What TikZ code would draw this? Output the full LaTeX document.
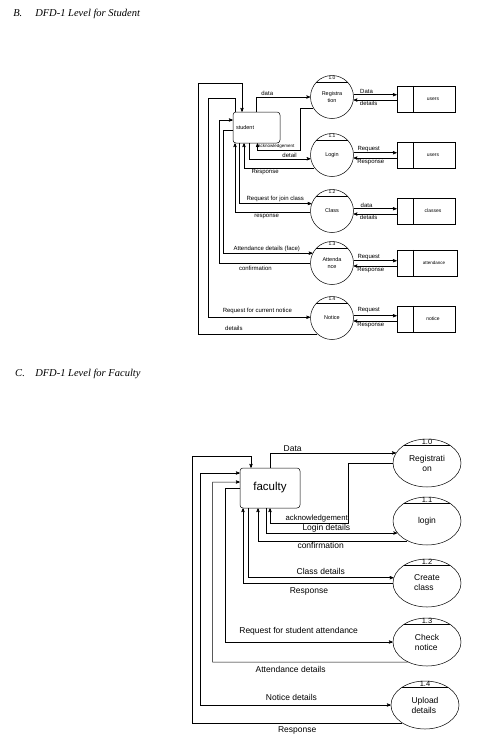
\documentclass[tikz,border=0pt]{standalone}
\usepackage{fontspec}
\setmainfont{Liberation Sans}
\newfontfamily\headfont{Liberation Serif}
\usetikzlibrary{arrows,shapes.geometric}

\begin{document}
\begin{tikzpicture}[x=1pt,y=-1pt,>=stealth',line width=0.5pt,
                    ent/.style={draw,rounded corners=3pt,inner sep=3pt,align=left},
                    proc/.style={draw,circle,minimum size=43pt,inner sep=0pt,align=center,
                                 font=\fontsize{5.5}{6.5}\selectfont},
                    fproc/.style={draw,ellipse,minimum width=68pt,minimum height=48pt,
                                  inner sep=0pt,font=\fontsize{8.5}{10}\selectfont},
                    store/.style={draw,minimum width=58pt,minimum height=26pt,inner sep=0pt},
                    stxt/.style={font=\fontsize{5}{6}\selectfont,inner sep=0pt},
                    pnum/.style={font=\fontsize{5}{5}\selectfont,inner sep=0.5pt},
                    fnum/.style={font=\fontsize{7.5}{8}\selectfont,inner sep=0.5pt},
                    tl/.style={font=\fontsize{6}{7}\selectfont,inner sep=1.2pt},
                    bl/.style={font=\fontsize{8.5}{10}\selectfont,inner sep=1.5pt},
                    head/.style={font=\headfont\itshape\fontsize{10.5}{12}\selectfont,
                                 inner sep=0pt,anchor=base west}]

	\useasboundingbox (0,0) rectangle (485,740);

	% headings
	\node[head] (hb)  at (13,16.5)  {B.};
	\node[head] (hbt) at (35,16.5)  {DFD-1 Level for Student};
	\node[head] (hc)  at (15,376.5) {C.};
	\node[head] (hct) at (35,376.5) {DFD-1 Level for Faculty};

	% student level
	\node[ent,text width=41pt,minimum height=31pt,font=\fontsize{5.5}{6}\selectfont]
		(stu) at (256.5,127.5) {student};

	\node[proc] (reg) at (332,97)  {Registra\\tion};
	\node[proc] (log) at (332,155) {Login};
	\node[proc] (cls) at (332,211) {Class};
	\node[proc] (att) at (332,263) {Attenda\\nce};
	\node[proc] (not) at (332,318) {Notice};

	\draw (reg.137) -- (reg.43);  \node[pnum,below] at (reg.north) {1.0};
	\draw (log.137) -- (log.43);  \node[pnum,below] at (log.north) {1.1};
	\draw (cls.137) -- (cls.43);  \node[pnum,below] at (cls.north) {1.2};
	\draw (att.137) -- (att.43);  \node[pnum,below] at (att.north) {1.3};
	\draw (not.137) -- (not.43);  \node[pnum,below] at (not.north) {1.4};

	\node[store,label={[stxt,xshift=7pt]center:users}]   (us1)  at (426,99)  {};
	\node[store,label={[stxt,xshift=7pt]center:users}]   (us2)  at (426,155) {};
	\node[store,label={[stxt,xshift=7pt]center:classes}] (scls) at (426,211) {};
	\node[store,minimum width=60pt,label={[stxt,xshift=7pt,font=\fontsize{4.5}{5}\selectfont]center:attendance}]
		(satt) at (427,263) {};
	\node[store,label={[stxt,xshift=7pt]center:notice}]  (snot) at (426,319) {};

	\draw ([xshift=16pt]us1.north west)  -- ([xshift=16pt]us1.south west);
	\draw ([xshift=16pt]us2.north west)  -- ([xshift=16pt]us2.south west);
	\draw ([xshift=16pt]scls.north west) -- ([xshift=16pt]scls.south west);
	\draw ([xshift=16pt]satt.north west) -- ([xshift=16pt]satt.south west);
	\draw ([xshift=16pt]snot.north west) -- ([xshift=16pt]snot.south west);

	\draw[->] (reg.6) -- node[tl,above,pos=0.3] {Data} (reg.6 -| us1.west);
	\draw[->] (us1.west |- reg.-8) -- node[tl,below,pos=0.65] {details} (reg.-8);
	\draw[->] (log.6) -- node[tl,above,pos=0.35] {Request} (log.6 -| us2.west);
	\draw[->] (us2.west |- log.-8) -- node[tl,below,pos=0.6] {Response} (log.-8);
	\draw[->] (cls.6) -- node[tl,above,pos=0.3] {data} (cls.6 -| scls.west);
	\draw[->] (scls.west |- cls.-8) -- node[tl,below,pos=0.65] {details} (cls.-8);
	\draw[->] (att.6) -- node[tl,above,inner sep=0.3pt,pos=0.35] {Request} (att.6 -| satt.west);
	\draw[->] (satt.west |- att.-8) -- node[tl,below,pos=0.6] {Response} (att.-8);
	\draw[->] (not.6) -- node[tl,above,inner sep=3pt,pos=0.35] {Request} (not.6 -| snot.west);
	\draw[->] (snot.west |- not.-8) -- node[tl,below,pos=0.6] {Response} (not.-8);

	\draw[->] (stu.north) |- node[tl,above,pos=0.6] {data} (reg.west);
	\draw[->] (reg.210) -| ++(-13,42) -| node[above,inner sep=0.8pt,font=\fontsize{4.5}{5}\selectfont,pos=0.28]
		{acknowledgement} ([xshift=1pt]stu.south);
	\draw[->] ([xshift=-7.5pt]stu.south) |- node[tl,above,pos=0.83] {detail} (log.190);
	\draw[->] (log.216) -| node[tl,below,pos=0.35] {Response} ([xshift=-12.5pt]stu.south);
	\draw[->] ([xshift=-17.5pt]stu.south) |- node[tl,above,pos=0.75] {Request for join class} (cls.160);
	\draw[->] (cls.182) -| node[tl,below,inner sep=2.5pt,pos=0.29] {response} ([xshift=-21.5pt]stu.south);
	\draw[->] ([yshift=-2.5pt]stu.west) -- ++(-10,0) |- node[tl,above,pos=0.745]
		{Attendance details (face)} (att.153);
	\draw[->] (att.180) -| node[tl,below,inner sep=2.5pt,pos=0.3] {confirmation}
		([xshift=-14pt,yshift=7.5pt]stu.west) -- ([yshift=7.5pt]stu.west);
	\draw[->] ([xshift=-21pt]stu.north) |- ++(-27,-14) |- node[tl,above,inner sep=3pt,pos=0.74]
		{Request for current notice} (not.178);
	\draw[->] (not.227) -| node[tl,above,inner sep=3pt,pos=0.35] {details} ++(-119,-251)
		-| ([xshift=-14.5pt]stu.north);

	% faculty level
	\node[ent,minimum width=60pt,minimum height=40pt,font=\fontsize{11.5}{13}\selectfont]
		(fac) at (270,488) {faculty};

	\node[fproc,align=center] (freg) at (427,463) {Registrati\\on};
	\node[fproc]              (flog) at (427,521) {login};
	\node[fproc,align=left]   (fcls) at (427,583) {Create\\class};
	\node[fproc,align=left]   (fchk) at (427,642) {Check\\notice};
	\node[fproc,align=left]   (fupl) at (425,705) {Upload\\details};

	\draw (freg.141) -- (freg.39);  \node[fnum,below] at (freg.north) {1.0};
	\draw (flog.141) -- (flog.39);  \node[fnum,below] at (flog.north) {1.1};
	\draw (fcls.141) -- (fcls.39);  \node[fnum,below] at (fcls.north) {1.2};
	\draw (fchk.141) -- (fchk.39);  \node[fnum,below] at (fchk.north) {1.3};
	\draw (fupl.141) -- (fupl.39);  \node[fnum,below] at (fupl.north) {1.4};

	\draw[->] (fac.north) |- node[bl,above,pos=0.59] {Data} (freg.162);
	\draw[->] (freg.west) -| ++(-45,60) -| node[above,inner sep=0.5pt,font=\fontsize{7.7}{8}\selectfont,pos=0.2]
		{acknowledgement} (fac.south);
	\draw[->] ([xshift=-4pt]fac.south) |- node[bl,above,inner sep=0.8pt,pos=0.73] {Login details} (flog.202);
	\draw[->] (flog.225) -| node[bl,below,pos=0.29] {confirmation} ([xshift=-12pt]fac.south);
	\draw[->] ([xshift=-22pt]fac.south) |- node[bl,above,inner sep=3pt,pos=0.75] {Class details} (fcls.171);
	\draw[->] (fcls.180) -| node[bl,below,inner sep=4pt,pos=0.28] {Response} ([xshift=-27pt]fac.south);
	\draw[->] (fac.west) -- ++(-15,0) |- node[bl,above,inner sep=6pt,pos=0.72]
		{Request for student attendance} (fchk.west);
	\draw[->] (fchk.226) -| node[bl,below,inner sep=4pt,pos=0.3] {Attendance details} ++(-195,-180)
		-- ([yshift=6pt]fac.west);
	\draw[<->] ([yshift=15pt]fac.west) -- ++(-40,0) |- node[bl,above,inner sep=4pt,pos=0.74]
		{Notice details} (fupl.west);
	\draw[->] (fupl.219) -| node[bl,below,inner sep=3pt,pos=0.25] {Response} ++(-210.5,-267)
		-| ([xshift=-19pt]fac.north);

\end{tikzpicture}
\end{document}
